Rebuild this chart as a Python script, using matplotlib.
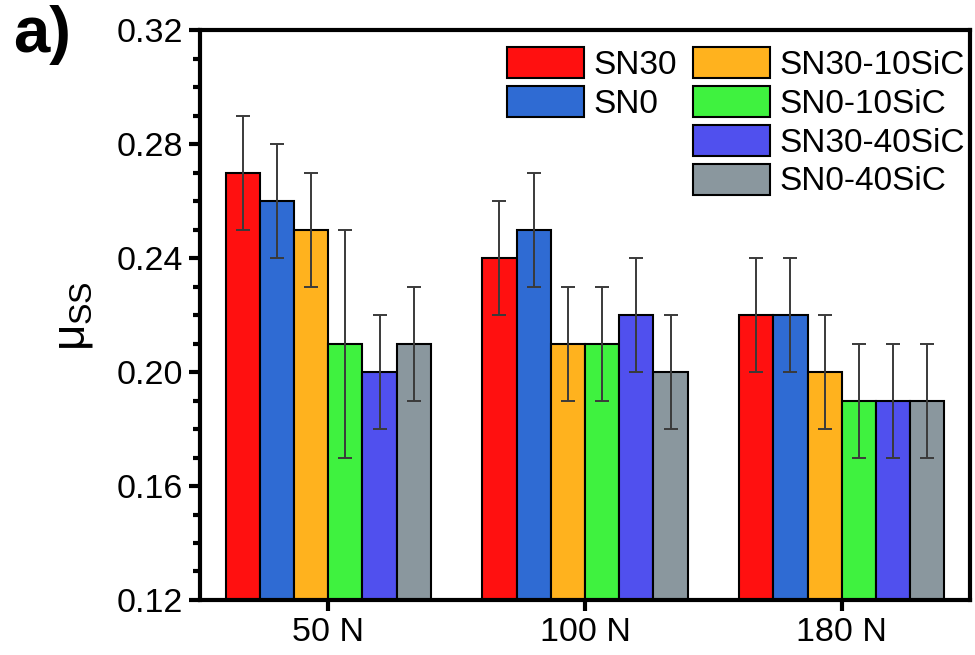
import numpy as np
import matplotlib
matplotlib.use('Agg')
import matplotlib.pyplot as plt
from matplotlib.ticker import MultipleLocator, FormatStrFormatter

plt.rcParams['font.family'] = ['Liberation Sans', 'DejaVu Sans']
plt.rcParams['mathtext.fontset'] = 'custom'
plt.rcParams['mathtext.rm'] = 'Liberation Sans'
plt.rcParams['mathtext.it'] = 'Liberation Sans'

loads = ['50 N', '100 N', '180 N']
series = ['SN30', 'SN0', 'SN30-10SiC', 'SN0-10SiC', 'SN30-40SiC', 'SN0-40SiC']
colors = ['#ff1010', '#2f6bd3', '#ffb21e', '#3ff23f', '#5050ee', '#8a979e']

sn30 = [0.27, 0.24, 0.22]
sn0 = [0.26, 0.25, 0.22]
sn30_10sic = [0.25, 0.21, 0.20]
sn0_10sic = [0.21, 0.21, 0.19]
sn30_40sic = [0.20, 0.22, 0.19]
sn0_40sic = [0.21, 0.20, 0.19]
values = [sn30, sn0, sn30_10sic, sn0_10sic, sn30_40sic, sn0_40sic]

err_sn30 = [0.02, 0.02, 0.02]
err_sn0 = [0.02, 0.02, 0.02]
err_sn30_10sic = [0.02, 0.02, 0.02]
err_sn0_10sic = [0.04, 0.02, 0.02]
err_sn30_40sic = [0.02, 0.02, 0.02]
err_sn0_40sic = [0.02, 0.02, 0.02]
errors = [err_sn30, err_sn0, err_sn30_10sic, err_sn0_10sic, err_sn30_40sic, err_sn0_40sic]

fig = plt.figure(figsize=(9.75, 6.55), dpi=100)
ax = fig.add_axes([0.205, 0.084, 0.79, 0.870])

x = np.arange(len(loads))
width = 0.8 / len(series)
handles = []
for i, (name, vals, errs, c) in enumerate(zip(series, values, errors, colors)):
    pos = x - 0.4 + width * (i + 0.5)
    b = ax.bar(pos, vals, width, color=c, edgecolor='black', linewidth=1.5,
               label=name, zorder=2)
    ax.errorbar(pos, vals, yerr=errs, fmt='none', ecolor='#3a3a3a',
                elinewidth=1.4, capsize=5, capthick=1.4, zorder=3)
    handles.append(b)

ax.set_xlim(-0.5, 2.5)
ax.set_ylim(0.12, 0.32)
ax.set_xticks(x)
ax.set_xticklabels(loads)
ax.yaxis.set_major_locator(MultipleLocator(0.04))
ax.yaxis.set_minor_locator(MultipleLocator(0.01))
ax.yaxis.set_major_formatter(FormatStrFormatter('%.2f'))
ax.tick_params(axis='both', which='major', direction='out', length=8, width=3,
               labelsize=24.5, pad=4)
ax.tick_params(axis='y', which='minor', direction='out', length=5, width=3)
ax.tick_params(top=False, right=False)
for s in ax.spines.values():
    s.set_linewidth(3)

leg_kw = dict(frameon=False, fontsize=24, handlelength=2.3, handleheight=1.05,
              handletextpad=0.3, labelspacing=0.15, borderpad=0, borderaxespad=0,
              loc='upper left')
leg1 = fig.legend(handles[:2], series[:2], bbox_to_anchor=(0.52, 0.928), **leg_kw)
leg2 = fig.legend(handles[2:], series[2:], bbox_to_anchor=(0.711, 0.928), **leg_kw)

fig.text(0.075, 0.518, r'$\mu_{\rm SS}$', rotation=90, fontsize=33,
         ha='center', va='center')
fig.text(0.013, 0.992, 'a)', fontsize=47, fontweight='bold', ha='left', va='top')

fig.savefig('out.png', dpi=100)
